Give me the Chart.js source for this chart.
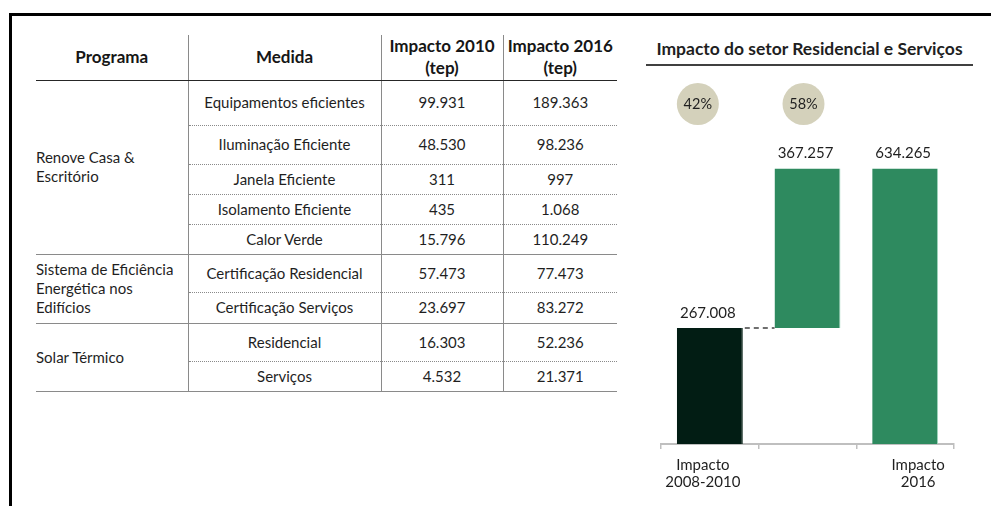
<!DOCTYPE html>
<html lang="pt">
<head>
<meta charset="utf-8">
<title>Impacto do setor Residencial e Serviços</title>
<script src="https://cdn.jsdelivr.net/npm/chart.js@4.4.1/dist/chart.umd.min.js"></script>
<style>
  html, body { margin: 0; padding: 0; background: #fff; }
  body {
    width: 991px; height: 506px; position: relative; overflow: hidden;
    font-family: Lato, "Open Sans", "Noto Sans", sans-serif; color: #1f1f1f;
  }
  .frame-top  { position: absolute; left: 9px; top: 13px; width: 982px; height: 3px; background: #000; }
  .frame-left { position: absolute; left: 9px; top: 13px; width: 3px; height: 493px; background: #000; }

  #tabela {
    position: absolute; left: 36px; top: 35px; width: 581px;
    border-collapse: collapse; table-layout: fixed; font-size: 15px;
  }
  #tabela th, #tabela td { padding: 0; text-align: center; vertical-align: middle; line-height: 19px; }
  #tabela th { font-weight: 700; font-size: 17px; color: #161616; border-bottom: 1.5px solid #262626; line-height: 22px; }
  #tabela .sep { border-left: 1.5px solid #8a8a8a; }
  #tabela td.programa { text-align: left; border-bottom: 1.5px solid #8a8a8a; }
  #tabela th.programa { text-align: center; }
  #tabela tr.pontilhada td.c { border-bottom: 1px dotted #8a8a8a; }
  #tabela tr.fim td { border-bottom: 1.5px solid #8a8a8a; }

  .titulo {
    position: absolute; left: 646px; top: 37px; width: 327px; text-align: center;
    font-weight: 700; font-size: 17.5px; color: #1f1f1f;
    border-bottom: 2px solid #404040; padding-bottom: 4px; line-height: 23px;
  }
  #grafico { position: absolute; left: 640px; top: 75px; }
</style>
</head>
<body>
<div class="frame-top"></div>
<div class="frame-left"></div>

<table id="tabela">
  <colgroup>
    <col style="width:152px"><col style="width:193px"><col style="width:122px"><col style="width:114px">
  </colgroup>
  <thead></thead>
  <tbody></tbody>
</table>

<div class="titulo">Impacto do setor Residencial e Serviços</div>
<canvas id="grafico" width="345" height="431"></canvas>

<script>
// ---- Tabela: medidas por programa (tep) ----
const cabecalhos = ['Programa', 'Medida', 'Impacto 2010<br>(tep)', 'Impacto 2016<br>(tep)'];
const programas = ['Renove Casa &<br>Escritório', 'Sistema de Eficiência<br>Energética nos<br>Edifícios', 'Solar Térmico'];
const medidasPorPrograma = [5, 2, 2];
const medidas = [
  'Equipamentos eficientes', 'Iluminação Eficiente', 'Janela Eficiente', 'Isolamento Eficiente',
  'Calor Verde', 'Certificação Residencial', 'Certificação Serviços', 'Residencial', 'Serviços'
];
const impacto2010 = [99931, 48530, 311, 435, 15796, 57473, 23697, 16303, 4532];
const impacto2016 = [189363, 98236, 997, 1068, 110249, 77473, 83272, 52236, 21371];

// ---- Gráfico em cascata ----
const categorias = [['Impacto', '2008-2010'], '', ['Impacto', '2016']];
const barraInicio = [0, 267008, 0];
const barraFim = [267008, 634265, 634265];
const participacao = ['42%', '58%'];

// layout of the table rows (px)
const alturaCabecalho = 45;
const alturasLinhas = [45, 39, 30, 30, 30, 38, 31, 38, 30];

function formatoPt(n) {
  return String(Math.round(n)).replace(/\B(?=(\d{3})+(?!\d))/g, '.');
}

(function montarTabela() {
  const thead = document.querySelector('#tabela thead');
  const tr = document.createElement('tr');
  tr.style.height = alturaCabecalho + 'px';
  cabecalhos.forEach((h, i) => {
    const th = document.createElement('th');
    th.innerHTML = h;
    th.className = i === 0 ? 'programa' : 'sep';
    tr.appendChild(th);
  });
  thead.appendChild(tr);

  const tbody = document.querySelector('#tabela tbody');
  let idx = 0;
  programas.forEach((prog, p) => {
    const n = medidasPorPrograma[p];
    for (let k = 0; k < n; k++, idx++) {
      const row = document.createElement('tr');
      row.style.height = alturasLinhas[idx] + 'px';
      row.className = (k === n - 1) ? 'fim' : 'pontilhada';
      if (k === 0) {
        const tdp = document.createElement('td');
        tdp.className = 'programa';
        tdp.rowSpan = n;
        tdp.innerHTML = prog;
        row.appendChild(tdp);
      }
      [medidas[idx], formatoPt(impacto2010[idx]), formatoPt(impacto2016[idx])].forEach(v => {
        const td = document.createElement('td');
        td.className = 'c sep';
        td.textContent = v;
        row.appendChild(td);
      });
      tbody.appendChild(row);
    }
  });
})();

const corTexto = '#1f1f1f';
const fonteGrafico = 'Lato, "Open Sans", sans-serif';

// connector, value labels, share bubbles and category captions
const extrasCascata = {
  id: 'extrasCascata',
  afterDatasetsDraw(chart, args, opts) {
    const { ctx, chartArea } = chart;
    const meta = chart.getDatasetMeta(0);
    const y = chart.scales.y;
    const x = chart.scales.x;
    ctx.save();

    // dashed connector from first bar to the increment bar
    const b0 = meta.data[0], b1 = meta.data[1];
    const yc = y.getPixelForValue(barraFim[0]);
    ctx.strokeStyle = '#6f6f6f';
    ctx.lineWidth = 2;
    ctx.setLineDash([5, 4]);
    ctx.beginPath();
    ctx.moveTo(b0.x + b0.width / 2 + 2, yc);
    ctx.lineTo(b1.x - b1.width / 2, yc);
    ctx.stroke();
    ctx.setLineDash([]);

    // value labels above each bar
    ctx.fillStyle = corTexto;
    ctx.font = '15px ' + fonteGrafico;
    ctx.textAlign = 'center';
    ctx.textBaseline = 'middle';
    meta.data.forEach((bar, i) => {
      const valor = barraFim[i] - barraInicio[i];
      ctx.fillText(formatoPt(valor), bar.x - 2, y.getPixelForValue(barraFim[i]) - 15);
    });

    // share bubbles
    participacao.forEach((txt, i) => {
      const cx = x.getPixelForValue(i) + opts.bolhaDesloc[i];
      const cy = chartArea.top - 36;
      ctx.fillStyle = '#d4d1bb';
      ctx.beginPath();
      ctx.arc(cx, cy, 21, 0, Math.PI * 2);
      ctx.fill();
      ctx.fillStyle = corTexto;
      ctx.font = '14.5px ' + fonteGrafico;
      ctx.fillText(txt, cx, cy);
    });

    // category captions under the axis
    ctx.font = '15px ' + fonteGrafico;
    categorias.forEach((lab, i) => {
      const linhas = Array.isArray(lab) ? lab : [lab];
      const cx = x.getPixelForValue(i) + opts.rotuloDesloc[i];
      linhas.forEach((l, j) => ctx.fillText(l, cx, chartArea.bottom + 21 + j * 17));
    });
    ctx.restore();
  }
};

new Chart(document.getElementById('grafico'), {
  type: 'bar',
  data: {
    labels: categorias,
    datasets: [{
      data: barraInicio.map((v, i) => [v, barraFim[i]]),
      backgroundColor: ['#021d14', '#2e8a5f', '#2e8a5f'],
      borderColor: ['#021d14', '#a3d8c0', '#a3d8c0'],
      borderWidth: { left: 0, right: 1, top: 0, bottom: 0 },
      borderSkipped: false,
      barPercentage: 0.675,
      categoryPercentage: 1
    }]
  },
  options: {
    responsive: false,
    animation: false,
    devicePixelRatio: 1,
    layout: { padding: { left: 21, right: 31, top: 65, bottom: 0 } },
    plugins: {
      legend: { display: false },
      tooltip: { enabled: false },
      extrasCascata: { bolhaDesloc: [-12, -4], rotuloDesloc: [-7, 0, 13] }
    },
    scales: {
      x: {
        grid: { display: true, drawOnChartArea: false, drawTicks: true, tickLength: 5, color: '#bfbfbf', lineWidth: 1.5, offset: true },
        border: { display: true, color: '#bfbfbf', width: 2 },
        ticks: { display: false },
        afterFit(axis) { axis.height = 62; }
      },
      y: {
        display: false,
        min: 0,
        max: 700000
      }
    }
  },
  plugins: [extrasCascata]
});
</script>
</body>
</html>
